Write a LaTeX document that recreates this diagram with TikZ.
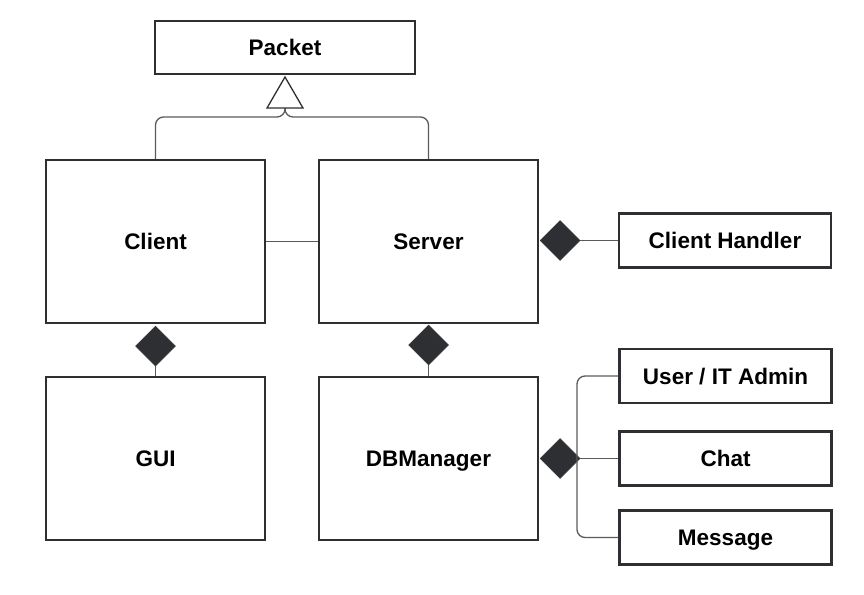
\documentclass[tikz,border=0pt]{standalone}
\usepackage{fontspec}
\setmainfont{Liberation Sans}
\usetikzlibrary{shapes.geometric,calc}
\definecolor{edge}{HTML}{2E2F33}
\definecolor{conn}{HTML}{5A5A5A}
\begin{document}
\begin{tikzpicture}[x=1pt,y=-1pt,
  box/.style={draw=edge,line width=2.4pt,fill=white,inner sep=0pt,text height=16pt,text depth=0pt,font=\fontsize{22.5}{26}\selectfont\bfseries},
  bigbox/.style={box,minimum width=219pt,minimum height=163pt},
  smallbox/.style={box,minimum width=212pt,minimum height=54pt},
  comp/.style={diamond,fill=edge,draw=edge,line width=0.5pt,inner sep=0pt,minimum width=40pt,minimum height=40pt},
  link/.style={draw=conn,line width=1.3pt}]
\useasboundingbox (0,0) rectangle (864,594);
\node[box,minimum width=260pt,minimum height=53pt] (packet) at (285,47.5) {Packet};
\node[bigbox] (client) at (155.5,241.5) {Client};
\node[bigbox] (server) at (428.5,241.5) {Server};
\node[bigbox] (gui) at (155.5,458.5) {GUI};
\node[bigbox] (db) at (428.5,458.5) {DBManager};
\node[smallbox] (ch) at (725,240.5) {Client Handler};
\node[smallbox] (user) at (725.5,376) {User / IT Admin};
\node[smallbox] (chat) at (725.5,458.5) {Chat};
\node[smallbox] (msg) at (725.5,537.5) {Message};
% diamonds
\node[comp] (dcg) at (155.5,346) {};
\node[comp] (dsd) at (428.5,345) {};
\node[comp] (dsc) at (560,240.5) {};
\node[comp] (ddb) at (560,458.5) {};
% inheritance
\coordinate (tri) at (285,108);
\coordinate (junc) at (285,117);
\draw[link,rounded corners=8pt] (client.north) |- (junc) -- (tri);
\draw[link,rounded corners=8pt] (server.north) |- (junc) -- (tri);
\draw[draw=edge,line width=1.3pt,fill=white,line join=miter] (tri) -- ++(-18,0) -- (285,77) -- (303,108) -- cycle;
% associations
\draw[link] (client.east) -- (server.west);
\draw[link] (dcg.south) -- (gui.north);
\draw[link] (dsd.south) -- (db.north);
\draw[link] (dsc.east) -- (ch.west);
\coordinate (br) at (577,458.5);
\draw[link,rounded corners=8pt] (br) |- (user.west);
\draw[link] (ddb.east) -- (chat.west);
\draw[link,rounded corners=8pt] (br) |- (msg.west);
\end{tikzpicture}
\end{document}
